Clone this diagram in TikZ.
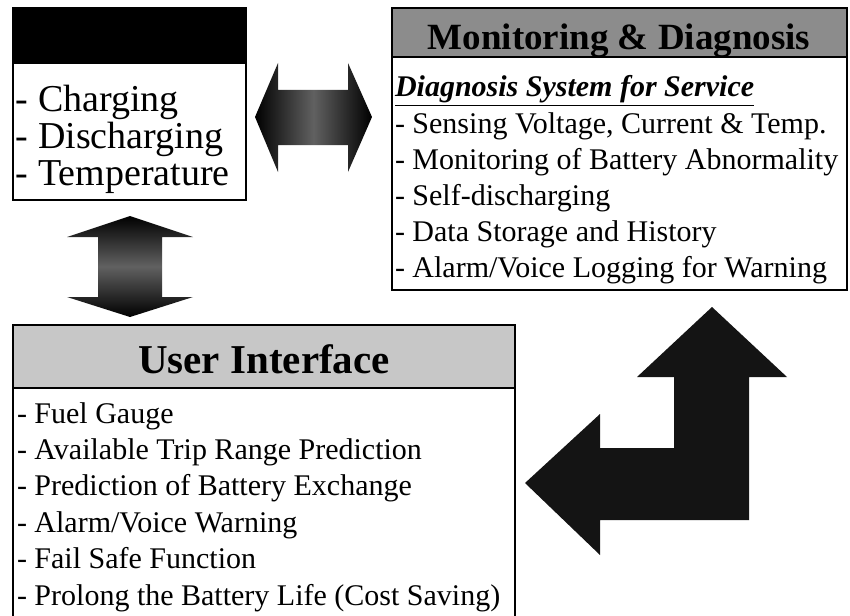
\documentclass[tikz,border=0pt]{standalone}
\usepackage{fontspec}
\setmainfont{Liberation Serif}
\usetikzlibrary{positioning}

\begin{document}
\begin{tikzpicture}[
        x=1pt, y=-1pt,
        every node/.style={inner sep=0pt, outer sep=0pt},
        % ===== Estilos =====
        bmsframe/.style={rectangle, draw=black, line width=1.2pt, fill=white,
                         anchor=north west},
        bmshead/.style={rectangle, draw=black, line width=1.2pt, anchor=north west},
        bmstitle/.style={font=\fontsize{37}{40}\selectfont\bfseries, anchor=base},
        bmsitem/.style={anchor=base west, font=\fontsize{30}{36}\selectfont},
        bmsbig/.style={anchor=base west, font=\fontsize{38}{36}\selectfont},
        hshade/.style={left color=black, right color=black, middle color=black!62},
        vshade/.style={top color=black, bottom color=black, middle color=black!62}
    ]
        \path[use as bounding box, clip] (0,0) rectangle (850,615);

        % ===== Caja superior izquierda =====
        \node[bmsframe, minimum width=233pt, minimum height=192pt] (cell) at (13,8) {};
        \node[bmshead, fill=black, minimum width=233pt, minimum height=55pt] (cellhead) at (13,8) {};
        \foreach \txt [count=\i] in {Charging, Discharging, Temperature}{
            \node[bmsbig] (cell\i) at (16,{111+37*(\i-1)}) {- \txt};
        }

        % ===== Monitoreo y diagnostico =====
        \node[bmsframe, minimum width=455pt, minimum height=282pt] (diag) at (392,8) {};
        \node[bmshead, fill=black!45, minimum width=455pt, minimum height=49pt] (diaghead) at (392,8) {};
        \node[bmstitle] (diagtitle) at (619,50) {Monitoring \& Diagnosis};
        \node[bmsitem, font=\fontsize{30}{36}\selectfont\bfseries\itshape] (diagsub) at (395,97)
            {\underline{Diagnosis System for Service}};
        \foreach \txt [count=\i] in {{Sensing Voltage, Current \& Temp.},
            Monitoring of Battery Abnormality, Self-discharging,
            Data Storage and History, Alarm/Voice Logging for Warning}{
            \node[bmsitem] (diag\i) at (395,{133+36*(\i-1)}) {- \txt};
        }

        % ===== Interfaz de usuario =====
        \node[bmsframe, minimum width=502pt, minimum height=300pt] (ui) at (13,325) {};
        \node[bmshead, fill=black!22, minimum width=502pt, minimum height=63pt] (uihead) at (13,325) {};
        \node[bmstitle, font=\fontsize{41}{44}\selectfont\bfseries] (uititle) at (264,373) {User Interface};
        \foreach \txt [count=\i] in {Fuel Gauge, Available Trip Range Prediction,
            Prediction of Battery Exchange, Alarm/Voice Warning,
            Fail Safe Function, Prolong the Battery Life (Cost Saving)}{
            \node[bmsitem] (ui\i) at (17,{423+36.4*(\i-1)}) {- \txt};
        }

        % ===== Flechas de bloque =====
        \path[hshade] (255,117) -- (278,63) -- (278,90) -- (348,90) -- (348,63)
            -- (372,117) -- (348,172) -- (348,145) -- (278,145) -- (278,172) -- cycle;
        \path[vshade] (130,216) -- (193,237) -- (162,237) -- (162,297) -- (193,297)
            -- (130,317) -- (67,297) -- (98,297) -- (98,237) -- (67,237) -- cycle;
        \path[fill=black!92] (525,483) -- (600,414) -- (600,448) -- (674,448)
            -- (674,377) -- (637,377) -- (712,307) -- (787,377) -- (749,377)
            -- (749,520) -- (600,520) -- (600,555) -- cycle;
    \end{tikzpicture}
\end{document}
